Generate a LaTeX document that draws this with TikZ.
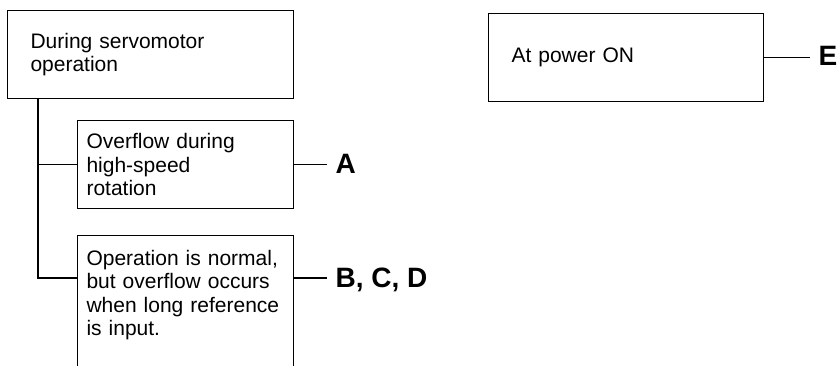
\documentclass[tikz,border=0pt]{standalone}
\usepackage{fontspec}
\setmainfont{Liberation Sans}

\begin{document}
\begin{tikzpicture}[
    x=0.75pt, y=-0.75pt,
    line width=0.8pt,
    case/.style={rectangle, draw, align=left, anchor=north west,
        font=\fontsize{15.75}{17.5}\selectfont},
    cause/.style={anchor=west, inner xsep=6pt, inner ysep=0pt, text depth=0pt,
        font=\fontsize{21}{24}\selectfont\bfseries}
]

\useasboundingbox (0,0) rectangle (840,366);
\clip (0,0) rectangle (840,366);

% Cases (left side)
\node[case, text width=180pt, inner xsep=17.25pt, minimum height=66pt] (run) at (7,10)
    {During servomotor\\operation};
\node[case, text width=148.5pt, inner xsep=6.75pt, minimum height=66pt] (fast) at (77,120)
    {Overflow during\\high-speed\\rotation};
\node[case, text width=148.5pt, inner xsep=6.75pt, inner ysep=11.25pt,
    text height=11.25pt, text depth=120pt] (long) at (77,235)
    {Operation is normal,\\but overflow occurs\\when long reference\\is input.};

% Case (right side)
\node[case, text width=171.75pt, inner xsep=17.25pt, minimum height=66pt] (power) at (488,13)
    {At power ON};

% Causes
\node[cause] (ca) at (327,164) {A};
\node[cause] (cbcd) at (327,278) {B, C, D};
\node[cause] (ce) at (810,56) {E};

% Tree lines
\coordinate (tap) at (38,278);
\draw (tap |- run.south) -- (tap) -- (tap -| long.west);
\draw (tap |- fast.west) -- (fast.west);

% Lines to causes
\draw (fast.east) -- (fast.east -| ca.west);
\draw (tap -| long.east) -- (cbcd.west |- tap);
\draw (power.east) -- (power.east -| ce.west);

\end{tikzpicture}
\end{document}
